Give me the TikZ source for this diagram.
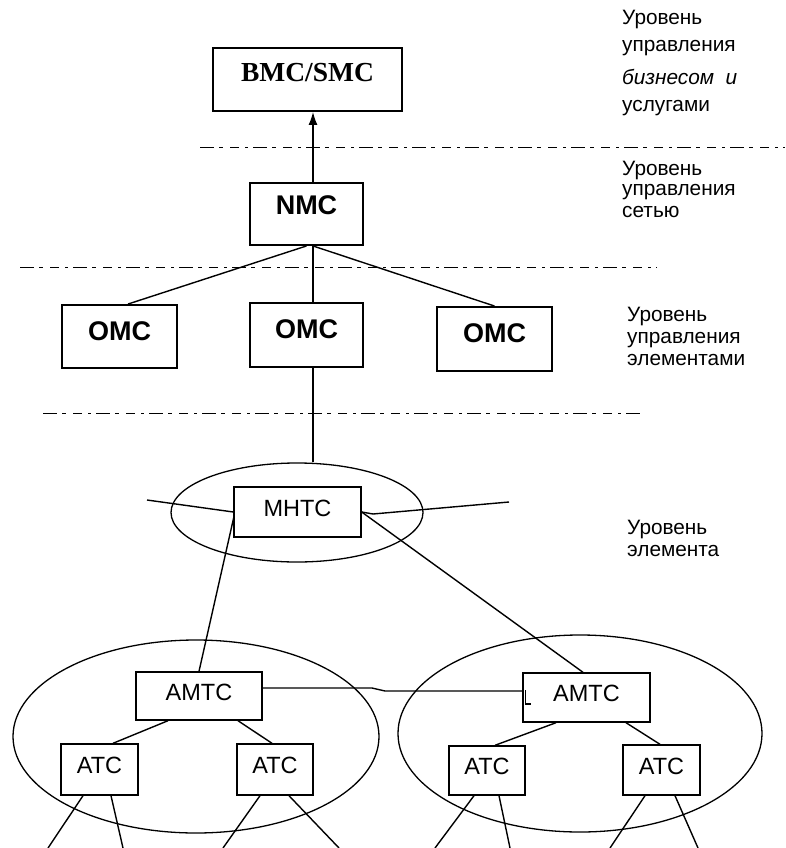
\documentclass[tikz,border=0pt]{standalone}
\usepackage{fontspec}
\setmainfont{Liberation Sans}
\newfontfamily\serifbmc{Liberation Serif}
\usetikzlibrary{shapes.geometric,arrows.meta,calc}
\begin{document}
\begin{tikzpicture}[x=1pt,y=-1pt,
  box/.style={draw, line width=1.4pt, inner sep=0pt, align=center},
  boldbox/.style={box, line width=1.9pt, font=\fontsize{27}{27}\selectfont\bfseries, text height=19.3pt, text depth=12pt},
  smallbox/.style={box, line width=1.4pt, font=\fontsize{23.5}{23.5}\selectfont, text height=16.8pt, text depth=8pt},
  wire/.style={line width=1.4pt},
  level/.style={line width=0.9pt, dash pattern=on 14pt off 5pt on 4pt off 7pt on 9pt off 6pt on 3pt off 5pt},
  lbl/.style={anchor=base west, inner sep=0pt, font=\fontsize{20.8}{20.8}\selectfont},
  group/.style={draw, ellipse, line width=1.3pt, inner sep=0pt},
]
\useasboundingbox (0,0) rectangle (785,848);

% level separators
\coordinate (d1a) at (200,147); \coordinate (d1b) at (785,147);
\coordinate (d2a) at (20,267);  \coordinate (d2b) at (657,267);
\coordinate (d3a) at (43,413);  \coordinate (d3b) at (640,413);
\draw[level] (d1a) -- (d1b);
\draw[level] (d2a) -- (d2b);
\draw[level] (d3a) -- (d3b);

% boxes
\node[box, line width=1.9pt, minimum width=189pt, minimum height=63pt,
      font=\serifbmc\fontsize{27.5}{27.5}\selectfont\bfseries, text height=18.2pt, text depth=14pt]
      (bmc) at (307.5,79.5) {BMC/SMC};
\node[boldbox, minimum width=113pt, minimum height=62pt, text depth=18pt] (nmc) at (306.5,214) {NMC};
\node[boldbox, minimum width=115pt, minimum height=63pt] (omc1) at (119.5,336.5) {OMC};
\node[boldbox, minimum width=113pt, minimum height=64pt] (omc2) at (306.5,335) {OMC};
\node[boldbox, minimum width=115pt, minimum height=64pt] (omc3) at (494.5,339) {OMC};

\node[group, minimum width=252pt, minimum height=99pt] (mell) at (297,512.5) {};
\node[smallbox, minimum width=127pt, minimum height=50pt] (mhtc) at (297.5,512) {MHTC};

\node[group, minimum width=366pt, minimum height=193pt] (ellL) at (196,736.5) {};
\node[group, minimum width=364pt, minimum height=197pt] (ellR) at (580,733.5) {};

\node[smallbox, minimum width=126pt, minimum height=48pt] (amtcL) at (199,696) {AMTC};
\node[smallbox, minimum width=127pt, minimum height=49pt] (amtcR) at (586.5,697.5) {AMTC};

\node[smallbox, minimum width=77pt, minimum height=51pt] (atc1) at (99.5,769.5) {ATC};
\node[smallbox, minimum width=76pt, minimum height=51pt] (atc2) at (275,769.5) {ATC};
\node[smallbox, minimum width=76pt, minimum height=49pt] (atc3) at (487,770.5) {ATC};
\node[smallbox, minimum width=77pt, minimum height=50pt] (atc4) at (661.5,770) {ATC};

% upper connectors
\draw[wire, -{Latex[length=13pt,width=9pt]}] ($(nmc.north)+(6.5,0)$) -- ($(bmc.south)+(5.5,0)$);
\draw[wire] ($(nmc.south)+(6.5,0)$) -- ($(omc2.north)+(6.5,0)$);
\draw[wire] (nmc.south) -- ($(omc1.north)+(8.5,0)$);
\draw[wire] ($(nmc.south)+(6.5,0)$) -- (omc3.north);
\coordinate (vx) at ($(omc2.south)+(6.5,0)$);
\draw[wire] (vx) -- (vx |- mell.north);

% MHTC connectors
\coordinate (mlend) at (147,500);
\coordinate (mrk) at (373,514);
\coordinate (mrend) at (509,502);
\draw[wire] (mlend) -- (mhtc.west);
\draw[wire] (mhtc.east) -- (mrk) -- (mrend);
\draw[wire] ($(mhtc.west)+(1,3)$) -- (amtcL.north);
\draw[wire] (mhtc.east) -- ($(amtcR.north)+(-3.5,0)$);

% AMTC link
\coordinate (k1) at (372,688);
\coordinate (k2) at (385,691);
\draw[wire] ($(amtcL.east)+(0,-8)$) -- (k1) -- (k2) -- (k2 -| amtcR.west);
\draw[wire] ($(amtcR.west)+(3,-7.5)$) -- ++(0,14) -- ++(6,0);

% AMTC to ATC
\draw[wire] ($(amtcL.south)+(-31,0)$) -- ($(atc1.north)+(13.5,0)$);
\draw[wire] ($(amtcL.south)+(39,0)$) -- ($(atc2.north)+(-3,0)$);
\draw[wire] ($(amtcR.south)+(-30.5,0)$) -- ($(atc3.north)+(8,0)$);
\draw[wire] ($(amtcR.south)+(39.5,0)$) -- ($(atc4.north)+(-1.5,0)$);

% subscriber lines
\coordinate (e1a) at (48,848);  \coordinate (e1b) at (123,848);
\coordinate (e2a) at (223,848); \coordinate (e2b) at (339,848);
\coordinate (e3a) at (435,848); \coordinate (e3b) at (510,848);
\coordinate (e4a) at (610,848); \coordinate (e4b) at (698,848);
\draw[wire] ($(atc1.south)+(-16.5,0)$) -- (e1a);
\draw[wire] ($(atc1.south)+(11.5,0)$) -- (e1b);
\draw[wire] ($(atc2.south)+(-15,0)$) -- (e2a);
\draw[wire] ($(atc2.south)+(14,0)$) -- (e2b);
\draw[wire] ($(atc3.south)+(-13,0)$) -- (e3a);
\draw[wire] ($(atc3.south)+(12,0)$) -- (e3b);
\draw[wire] ($(atc4.south)+(-16.5,0)$) -- (e4a);
\draw[wire] ($(atc4.south)+(13.5,0)$) -- (e4b);

% level labels
\node[lbl] (g1a) at (622,25) {Уровень};
\node[lbl] (g1b) at (622,51.5) {управления};
\node[lbl] (g1c) at (622,85) {\itshape бизнесом\ \ и};
\node[lbl] (g1d) at (622,112) {услугами};
\node[lbl] (g2a) at (622,175) {Уровень};
\node[lbl] (g2b) at (622,195.5) {управления};
\node[lbl] (g2c) at (622,217.5) {сетью};
\node[lbl] (g3a) at (627,321.5) {Уровень};
\node[lbl] (g3b) at (627,343) {управления};
\node[lbl] (g3c) at (627,365) {элементами};
\node[lbl] (g4a) at (627,534) {Уровень};
\node[lbl] (g4b) at (627,556) {элемента};
\end{tikzpicture}
\end{document}
